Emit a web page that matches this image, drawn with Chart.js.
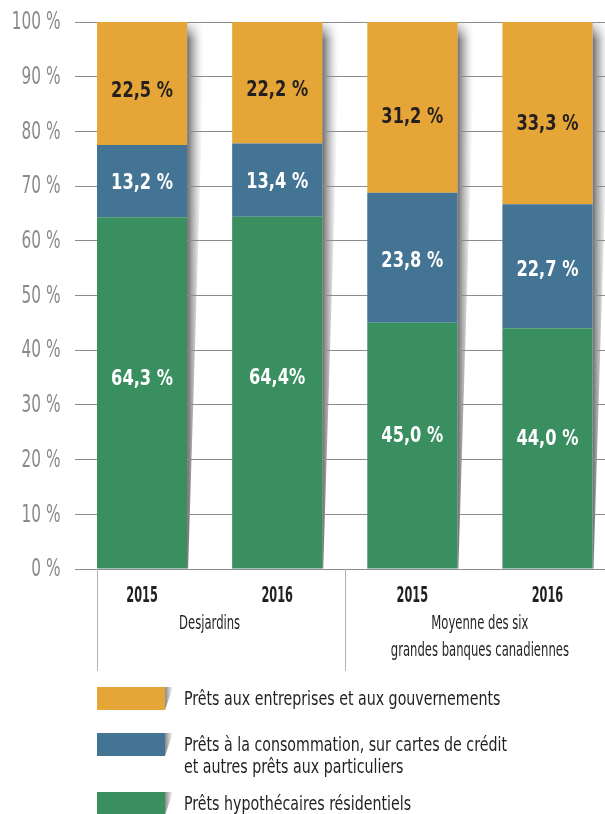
<!DOCTYPE html>
<html lang="fr">
<head>
<meta charset="utf-8">
<title>Répartition des prêts</title>
<script src="https://cdn.jsdelivr.net/npm/chart.js@4.4.1/dist/chart.umd.min.js"></script>
<style>
  body {
    margin: 0;
    width: 605px;
    height: 814px;
    overflow: hidden;
    position: relative;
    background: #fff;
    font-family: "DejaVu Sans Condensed", "Liberation Sans Narrow", "Roboto", sans-serif;
    color: #231f20;
  }
  #graphique { position: absolute; left: 0; top: 0; }
  .legende {
    position: absolute;
    left: 97px;
    display: flex;
    align-items: flex-start;
  }
  .boite { width: 68px; height: 23px; flex: none; }
  .ombre {
    width: 8px; height: 23px; flex: none;
    background: linear-gradient(to right, #8a8a8a, #fff);
    clip-path: polygon(0 0, 100% 0, 0 100%);
  }
  .texte {
    margin-left: 11px;
    font-size: 20px;
    line-height: 22px;
    white-space: nowrap;
    transform: scaleX(0.79);
    transform-origin: left top;
  }
</style>
</head>
<body>
<canvas id="graphique" width="615" height="814"></canvas>

<div class="legende" style="top:687px">
  <div class="boite" style="background:#e5a637"></div><div class="ombre"></div>
  <div class="texte">Prêts aux entreprises et aux gouvernements</div>
</div>
<div class="legende" style="top:733px">
  <div class="boite" style="background:#437494"></div><div class="ombre"></div>
  <div class="texte">Prêts à la consommation, sur cartes de crédit<br>et autres prêts aux particuliers</div>
</div>
<div class="legende" style="top:792px">
  <div class="boite" style="background:#3a8f61"></div><div class="ombre"></div>
  <div class="texte">Prêts hypothécaires résidentiels</div>
</div>

<script>
// Catégories et groupes
const annees = ['2015', '2016', '2015', '2016'];
const groupes = [['Desjardins'], ['Moyenne des six', 'grandes banques canadiennes']];

// Valeurs (%)
const pretsHypothecaires = [64.3, 64.4, 45.0, 44.0];
const pretsConsommation = [13.2, 13.4, 23.8, 22.7];
const pretsEntreprises = [22.5, 22.2, 31.2, 33.3];

// Étiquettes affichées dans les barres
const etiquettesHypothecaires = ['64,3 %', '64,4%', '45,0 %', '44,0 %'];
const etiquettesConsommation = ['13,2 %', '13,4 %', '23,8 %', '22,7 %'];
const etiquettesEntreprises = ['22,5 %', '22,2 %', '31,2 %', '33,3 %'];

const police = '"DejaVu Sans Condensed", "Liberation Sans Narrow", "Roboto", sans-serif';

// texte resserré horizontalement (la police d'origine est très étroite)
function texteEtroit(ctx, texte, x, y, echelle) {
  ctx.save();
  ctx.translate(x, y);
  ctx.scale(echelle, 1);
  ctx.fillText(texte, 0, 0);
  ctx.restore();
}

// Ombre grise à droite de chaque barre
const ombreBarres = {
  id: 'ombreBarres',
  beforeDraw(chart) {
    const ctx = chart.ctx;
    const bas = chart.getDatasetMeta(0).data;
    const haut = chart.getDatasetMeta(2).data;
    haut.forEach((el, i) => {
      const droite = el.x + el.width / 2;
      const top = el.y;
      const base = bas[i].base;
      const largeur = 18;
      const grad = ctx.createLinearGradient(droite, 0, droite + largeur, 0);
      grad.addColorStop(0, 'rgba(105,105,105,1)');
      grad.addColorStop(0.45, 'rgba(165,165,165,0.6)');
      grad.addColorStop(1, 'rgba(255,255,255,0)');
      ctx.save();
      ctx.beginPath();
      ctx.moveTo(droite, top);
      ctx.lineTo(droite + largeur, top);
      ctx.lineTo(droite + 1, base);
      ctx.lineTo(droite, base);
      ctx.closePath();
      ctx.fillStyle = grad;
      ctx.fill();
      // fondu vers le haut
      const fondu = ctx.createLinearGradient(0, top, 0, top + 18);
      fondu.addColorStop(0, 'rgba(255,255,255,0.9)');
      fondu.addColorStop(1, 'rgba(255,255,255,0)');
      ctx.fillStyle = fondu;
      ctx.fillRect(droite, top, largeur + 2, 18);
      ctx.restore();
    });
  }
};

// Valeurs dans les barres
const valeursBarres = {
  id: 'valeursBarres',
  afterDatasetsDraw(chart) {
    const ctx = chart.ctx;
    ctx.save();
    ctx.font = 'bold 22px ' + police;
    ctx.textAlign = 'center';
    ctx.textBaseline = 'middle';
    chart.data.datasets.forEach((ds, d) => {
      chart.getDatasetMeta(d).data.forEach((el, i) => {
        ctx.fillStyle = ds.couleurTexte;
        const y = el.y + (el.base - el.y) * ds.hauteurEtiquette;
        texteEtroit(ctx, ds.etiquettes[i], el.x, y, 0.82);
      });
    });
    ctx.restore();
  }
};

// Libellés des axes, séparateurs et noms des groupes
const axesEtGroupes = {
  id: 'axesEtGroupes',
  afterDraw(chart) {
    const ctx = chart.ctx;
    const x = chart.scales.x;
    const y = chart.scales.y;
    const area = chart.chartArea;
    const bas = area.bottom;
    ctx.save();

    // graduations de l'axe des %
    ctx.fillStyle = '#8a8a8a';
    ctx.font = '24px ' + police;
    ctx.textAlign = 'right';
    ctx.textBaseline = 'middle';
    y.ticks.forEach(t => {
      texteEtroit(ctx, t.value + ' %', area.left - 14, y.getPixelForValue(t.value) + 1, 0.71);
    });

    // années
    ctx.fillStyle = '#231f20';
    ctx.font = 'bold 21px ' + police;
    ctx.textAlign = 'center';
    ctx.textBaseline = 'alphabetic';
    x.ticks.forEach((t, i) => {
      texteEtroit(ctx, x.getLabelForValue(t.value), x.getPixelForTick(i), bas + 33, 0.6);
    });

    // séparateurs
    const premiere = chart.getDatasetMeta(0).data[0];
    const separateurs = [
      premiere.x - premiere.width / 2,
      (x.getPixelForValue(1) + x.getPixelForValue(2)) / 2
    ];
    ctx.strokeStyle = '#b5b5b5';
    ctx.lineWidth = 1;
    separateurs.forEach(sx => {
      ctx.beginPath();
      ctx.moveTo(Math.round(sx) + 0.5, bas);
      ctx.lineTo(Math.round(sx) + 0.5, bas + 102);
      ctx.stroke();
    });

    // groupes
    ctx.font = '19px ' + police;
    groupes.forEach((lignes, g) => {
      const cx = (x.getPixelForValue(g * 2) + x.getPixelForValue(g * 2 + 1)) / 2;
      lignes.forEach((ligne, l) => {
        texteEtroit(ctx, ligne, cx, bas + 60 + l * 27, 0.68);
      });
    });
    ctx.restore();
  }
};

new Chart(document.getElementById('graphique'), {
  type: 'bar',
  data: {
    labels: annees,
    datasets: [
      {
        label: 'Prêts hypothécaires résidentiels',
        data: pretsHypothecaires,
        backgroundColor: '#3a8f61',
        etiquettes: etiquettesHypothecaires,
        couleurTexte: '#ffffff',
        hauteurEtiquette: 0.46
      },
      {
        label: 'Prêts à la consommation, sur cartes de crédit et autres prêts aux particuliers',
        data: pretsConsommation,
        backgroundColor: '#437494',
        etiquettes: etiquettesConsommation,
        couleurTexte: '#ffffff',
        hauteurEtiquette: 0.53
      },
      {
        label: 'Prêts aux entreprises et aux gouvernements',
        data: pretsEntreprises,
        backgroundColor: '#e5a637',
        etiquettes: etiquettesEntreprises,
        couleurTexte: '#231f20',
        hauteurEtiquette: 0.56
      }
    ]
  },
  options: {
    responsive: false,
    devicePixelRatio: 1,
    animation: false,
    layout: { padding: { top: 22, left: 0, right: 0, bottom: 0 } },
    datasets: {
      bar: { barPercentage: 90 / 135, categoryPercentage: 1 }
    },
    plugins: {
      legend: { display: false },
      tooltip: { enabled: false }
    },
    scales: {
      x: {
        stacked: true,
        grid: { display: false },
        border: { display: false },
        ticks: { display: false },
        afterFit: s => { s.height = 245; }
      },
      y: {
        stacked: true,
        min: 0,
        max: 100,
        border: { display: false },
        grid: { color: '#8c8c8c', lineWidth: 1, drawTicks: false },
        ticks: { stepSize: 10, display: false },
        afterFit: s => { s.width = 74.5; }
      }
    }
  },
  plugins: [ombreBarres, valeursBarres, axesEtGroupes]
});
</script>
</body>
</html>
